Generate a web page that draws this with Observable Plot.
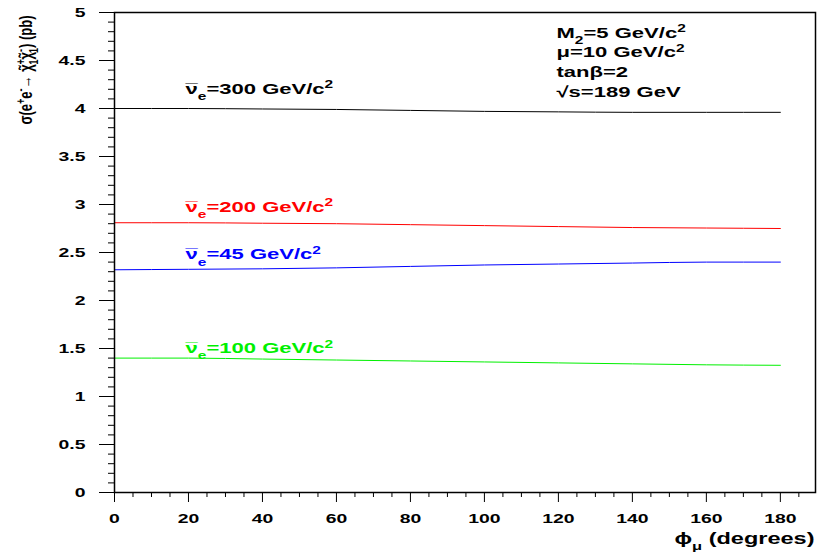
<!DOCTYPE html>
<html>
<head>
<meta charset="utf-8">
<script src="https://cdn.jsdelivr.net/npm/d3@7"></script>
<script src="https://cdn.jsdelivr.net/npm/@observablehq/plot@0.6"></script>
<style>
  html, body { margin: 0; padding: 0; background: #fff; }
</style>
</head>
<body>
<div id="chart"></div>
<script>
// ---- data ----
const phi = [0, 20, 40, 60, 80, 100, 120, 140, 160, 180];
const sigmaSnu300 = [4.00, 4.00, 3.995, 3.99, 3.98, 3.97, 3.965, 3.96, 3.96, 3.96];
const sigmaSnu200 = [2.81, 2.81, 2.805, 2.80, 2.79, 2.78, 2.77, 2.76, 2.755, 2.75];
const sigmaSnu45  = [2.32, 2.325, 2.33, 2.34, 2.355, 2.37, 2.38, 2.39, 2.40, 2.40];
const sigmaSnu100 = [1.40, 1.40, 1.39, 1.38, 1.37, 1.36, 1.35, 1.34, 1.33, 1.325];
const seriesNames = ["300", "200", "45", "100"];
const curveLabels = [
  "ν!-0.55{¯}_{e}=300 GeV/c^{2}",
  "ν!-0.55{¯}_{e}=200 GeV/c^{2}",
  "ν!-0.55{¯}_{e}=45 GeV/c^{2}",
  "ν!-0.55{¯}_{e}=100 GeV/c^{2}"
];
const infoLines = ["M_{2}=5 GeV/c^{2}", "μ=10 GeV/c^{2}", "tanβ=2", "√s=189 GeV"];
const xTicks = [0, 20, 40, 60, 80, 100, 120, 140, 160, 180];
const xTickLabels = ["0", "20", "40", "60", "80", "100", "120", "140", "160", "180"];
const xMinorTicks = [5, 10, 15, 25, 30, 35, 45, 50, 55, 65, 70, 75, 85, 90, 95, 105, 110, 115, 125, 130, 135, 145, 150, 155, 165, 170, 175, 185];
const yTicks = [0, 0.5, 1, 1.5, 2, 2.5, 3, 3.5, 4, 4.5, 5];
const yTickLabels = ["0", "0.5", "1", "1.5", "2", "2.5", "3", "3.5", "4", "4.5", "5"];
const yMinorTicks = [0.1,0.2,0.3,0.4,0.6,0.7,0.8,0.9,1.1,1.2,1.3,1.4,1.6,1.7,1.8,1.9,2.1,2.2,2.3,2.4,2.6,2.7,2.8,2.9,3.1,3.2,3.3,3.4,3.6,3.7,3.8,3.9,4.1,4.2,4.3,4.4,4.6,4.7,4.8,4.9];
const xTitle = "ϕ_{μ} (degrees)";
const yTitle = "σ(e^{+}e^{-}→ χ!-0.44{˜}^0.15{+}_-0.6{1}χ!-0.44{˜}^0.15{-}_-0.45{1}) (pb)";

// ---- styles ----
const seriesValues = [sigmaSnu300, sigmaSnu200, sigmaSnu45, sigmaSnu100];
const seriesColors = ["#000000", "#ff0000", "#0000ff", "#00f000"];
const labelDy = [-15, -11, -10, -5];
const FONT = "'Liberation Sans', Arial, Helvetica, sans-serif";

const rows = [];
seriesNames.forEach((name, s) => phi.forEach((p, i) => rows.push({series: name, phi: p, sigma: seriesValues[s][i]})));

const marks = [
  Plot.axisY({ticks: yMinorTicks, tickSize: 6, tickFormat: () => "", label: null}),
  Plot.axisY({ticks: yTicks, tickSize: 15, tickPadding: 14, tickFormat: d => yTickLabels[yTicks.indexOf(d)],
              label: null, fontSize: 13.2, fontWeight: "bold"}),
  Plot.axisX({ticks: xMinorTicks, tickSize: 5, tickFormat: () => "", label: null}),
  Plot.axisX({ticks: xTicks, tickSize: 10, tickPadding: 11, tickFormat: d => xTickLabels[xTicks.indexOf(d)],
              label: null, fontSize: 13.2, fontWeight: "bold"}),
  Plot.line(rows, {x: "phi", y: "sigma", z: "series", stroke: "series", strokeWidth: 1, curve: "monotone-x"}),
  Plot.frame({stroke: "black", strokeWidth: 1.5}),
];
seriesNames.forEach((name, s) => {
  marks.push(Plot.text([curveLabels[s]], {x: phi[1], y: seriesValues[s][1], dx: -3, dy: labelDy[s], text: d => d,
    textAnchor: "start", fill: seriesColors[s], fontSize: 15, fontWeight: "bold"}));
});
infoLines.forEach((t, i) => {
  marks.push(Plot.text([t], {frameAnchor: "top-left", dx: 442, dy: 25 + i * 19.7, text: d => d,
    textAnchor: "start", fill: "black", fontSize: 15, fontWeight: "bold"}));
});
marks.push(Plot.text([xTitle], {frameAnchor: "bottom-right", dx: -1, dy: 51, text: d => d,
  textAnchor: "end", fill: "black", fontSize: 16, fontWeight: "bold"}));
marks.push(Plot.text([yTitle], {frameAnchor: "top-left", dx: -83, dy: 3, rotate: -90, text: d => d,
  textAnchor: "end", fill: "black", fontSize: 13, fontWeight: "bold"}));

const svg = Plot.plot({
  width: 818,
  height: 554,
  marginLeft: 114,
  marginRight: 3,
  marginTop: 12,
  marginBottom: 62,
  x: {domain: [0, 189.5]},
  y: {domain: [0, 5]},
  color: {domain: seriesNames, range: seriesColors},
  style: {fontFamily: FONT, background: "white", color: "black"},
  marks
});

// ---- post-process text: ROOT-like sub/superscripts, accents and horizontal stretch ----
const S = 1.47, S_ROT = 1.45;
const svgNS = "http://www.w3.org/2000/svg";
const custom = new Set([...curveLabels, ...infoLines, xTitle, yTitle]);
d3.select(svg).selectAll("text").each(function () {
  const raw = this.textContent;
  if (custom.has(raw)) {
    this.setAttribute("y", "0");
    const re = /([_^!])(-?[\d.]+)?\{([^}]*)\}/g;
    if (re.test(raw)) {
      re.lastIndex = 0;
      while (this.firstChild) this.removeChild(this.firstChild);
      let last = 0, m;
      while ((m = re.exec(raw))) {
        if (m.index > last) this.appendChild(document.createTextNode(raw.slice(last, m.index)));
        const ts = document.createElementNS(svgNS, "tspan");
        if (m[1] !== "!") {
          ts.setAttribute("font-size", "70%");
          ts.setAttribute("baseline-shift", m[1] === "^" ? "super" : "sub");
        }
        if (m[2]) ts.setAttribute("dx", m[2] + "em");
        ts.textContent = m[3];
        this.appendChild(ts);
        last = re.lastIndex;
      }
      if (last < raw.length) this.appendChild(document.createTextNode(raw.slice(last)));
    }
  }
  const t = this.getAttribute("transform") || "";
  const rotated = /rotate\(\s*-?90\s*\)/.test(t);
  this.setAttribute("transform", t + (rotated ? ` scale(1,${S_ROT})` : ` scale(${S},1)`));
});

document.getElementById("chart").appendChild(svg);
</script>
</body>
</html>
